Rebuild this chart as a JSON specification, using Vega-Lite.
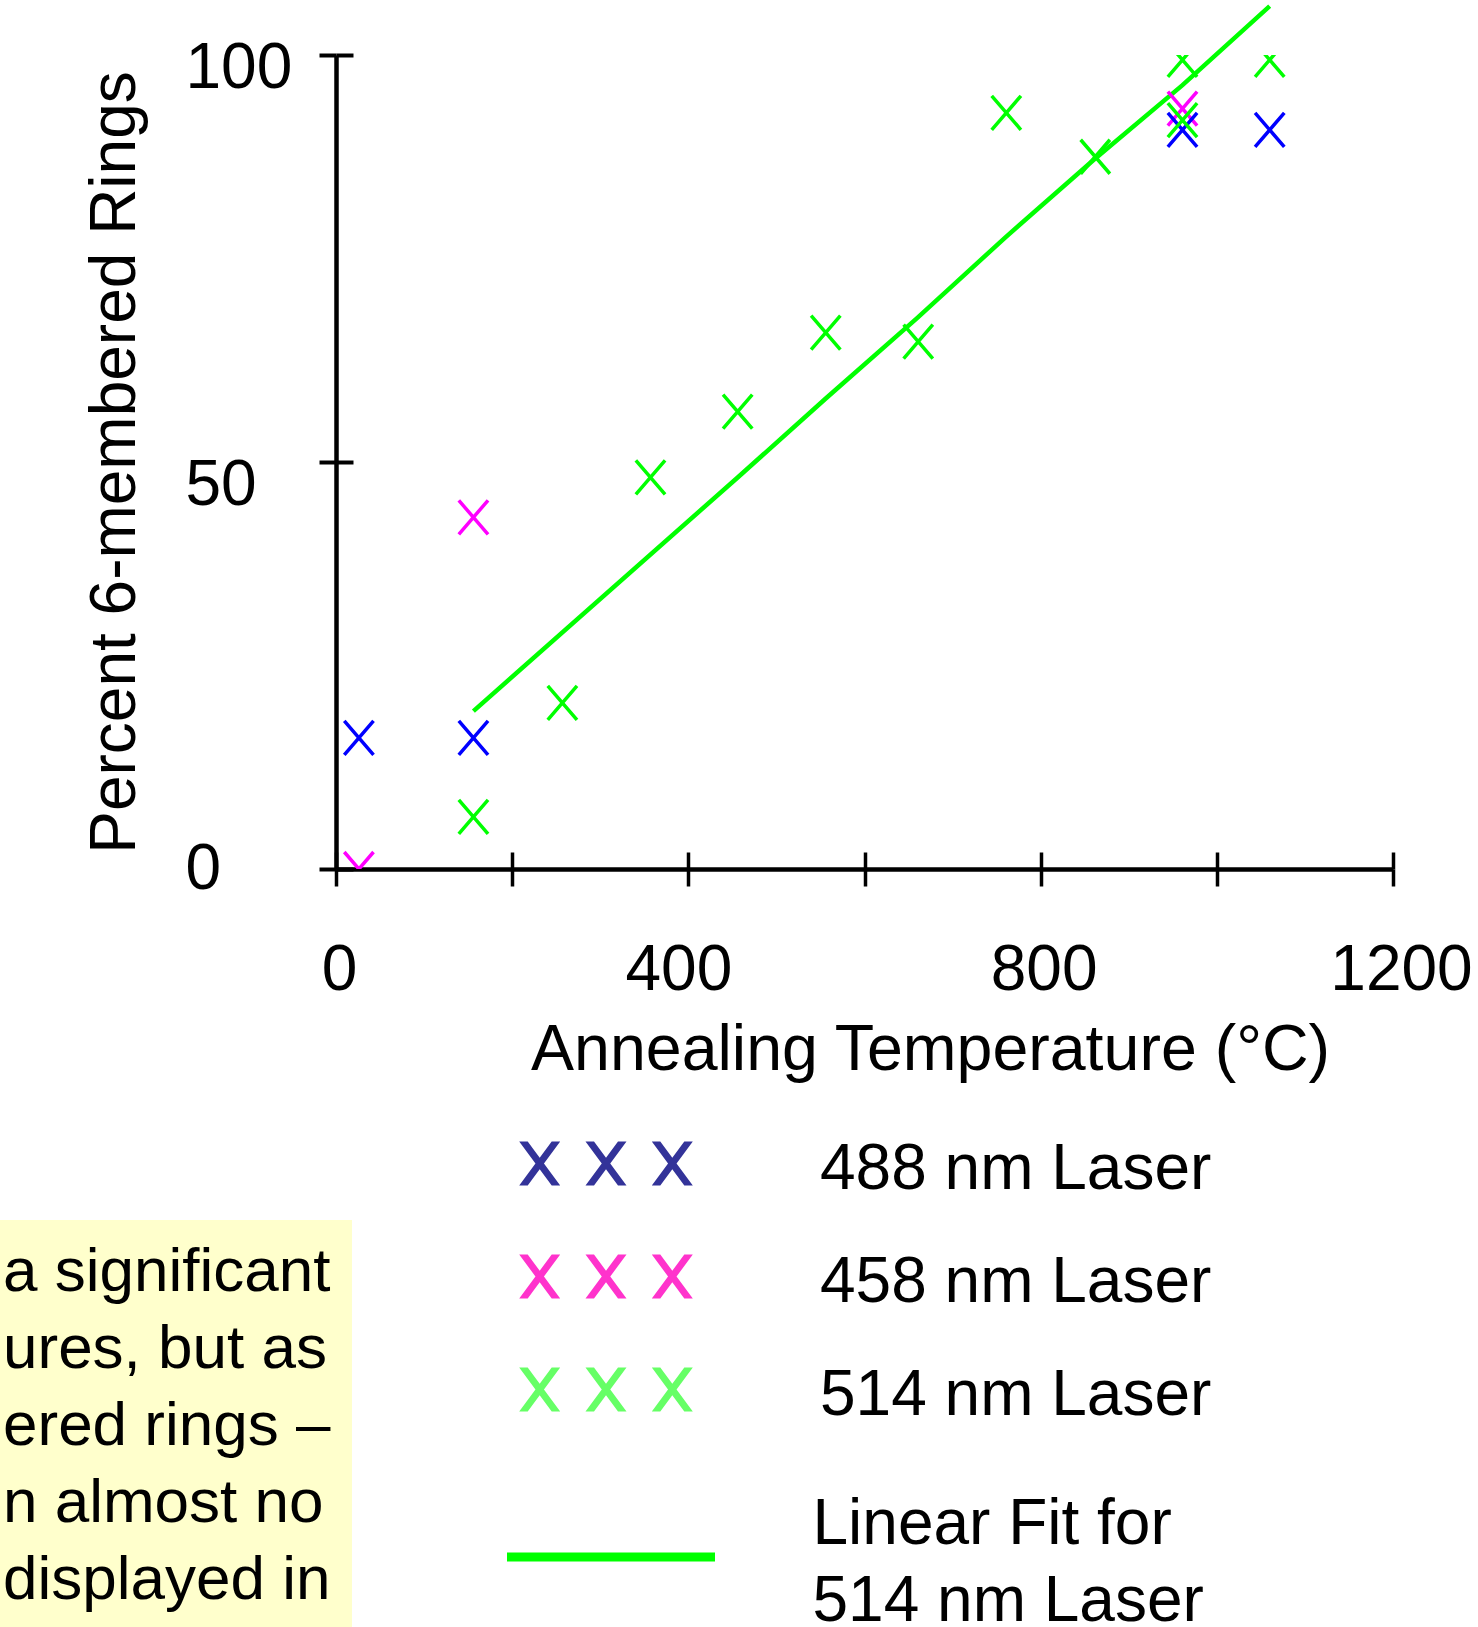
{
  "$schema": "https://vega.github.io/schema/vega-lite/v6.json",
  "autosize": {"type": "none"},
  "padding": {"left": 336, "top": 55, "right": 85, "bottom": 758},
  "width": 1057,
  "height": 814,
  "background": "white",
  "config": {"view": {"stroke": null}, "font": "Liberation Sans", "axis": {"grid": false}, "style": {"guide-label": {"lineHeight": 77}}},
  "datasets": {
    "points": [
      {"laser": "458 nm Laser", "T": 26, "pct": 0},
      {"laser": "458 nm Laser", "T": 156, "pct": 43.2},
      {"laser": "458 nm Laser", "T": 961, "pct": 93.4},
      {"laser": "488 nm Laser", "T": 26, "pct": 16.1},
      {"laser": "488 nm Laser", "T": 156, "pct": 16.1},
      {"laser": "488 nm Laser", "T": 961, "pct": 90.8},
      {"laser": "488 nm Laser", "T": 1060, "pct": 90.8},
      {"laser": "514 nm Laser", "T": 156, "pct": 6.4},
      {"laser": "514 nm Laser", "T": 257, "pct": 20.4},
      {"laser": "514 nm Laser", "T": 357, "pct": 48.1},
      {"laser": "514 nm Laser", "T": 456, "pct": 56.2},
      {"laser": "514 nm Laser", "T": 556, "pct": 65.9},
      {"laser": "514 nm Laser", "T": 661, "pct": 64.8},
      {"laser": "514 nm Laser", "T": 761, "pct": 92.9},
      {"laser": "514 nm Laser", "T": 862, "pct": 87.5},
      {"laser": "514 nm Laser", "T": 961, "pct": 99.4},
      {"laser": "514 nm Laser", "T": 961, "pct": 92.0},
      {"laser": "514 nm Laser", "T": 1060, "pct": 99.4}
    ],
    "fit": [
      {"fit": "Linear Fit for 514 nm Laser", "T": 156, "pct": 19.4},
      {"fit": "Linear Fit for 514 nm Laser", "T": 456, "pct": 48.1},
      {"fit": "Linear Fit for 514 nm Laser", "T": 556, "pct": 57.8},
      {"fit": "Linear Fit for 514 nm Laser", "T": 660, "pct": 67.7},
      {"fit": "Linear Fit for 514 nm Laser", "T": 760, "pct": 77.6},
      {"fit": "Linear Fit for 514 nm Laser", "T": 860, "pct": 87.1},
      {"fit": "Linear Fit for 514 nm Laser", "T": 961, "pct": 96.3},
      {"fit": "Linear Fit for 514 nm Laser", "T": 1060, "pct": 106.0}
    ],
    "note": [
      {"note": "a significant"},
      {"note": "ures, but as"},
      {"note": "ered rings –"},
      {"note": "n almost no"},
      {"note": "displayed in"}
    ]
  },
  "layer": [
    {
      "data": {"name": "fit"},
      "mark": {"type": "line", "strokeWidth": 4.5, "clip": false},
      "encoding": {
        "x": {"field": "T", "type": "quantitative", "scale": {"domain": [0, 1200], "nice": false},
          "axis": {"orient": "bottom", "domain": false, "labels": false, "title": null, "tickSize": -17, "tickWidth": 3.5, "tickColor": "black", "values": [0, 200, 400, 600, 800, 1000, 1200]}},
        "y": {"field": "pct", "type": "quantitative", "scale": {"domain": [0, 100], "nice": false},
          "axis": {"orient": "left", "domain": false, "labels": false, "title": null, "tickSize": -17, "tickWidth": 4, "tickColor": "black", "values": [0, 50, 100]}},
        "stroke": {"field": "fit", "type": "nominal", "scale": {"range": ["#00FF00"]},
          "legend": {"orient": "none", "legendX": 166.5, "legendY": 1393.5, "title": null, "padding": 0,
            "symbolType": "stroke", "symbolSize": 43264, "symbolStrokeWidth": 9, "symbolFillColor": "transparent",
            "labelFontSize": 64, "labelFont": "Liberation Sans", "labelColor": "black", "labelLimit": 0, "labelOffset": 93, "labelBaseline": "bottom",
            "labelExpr": "[slice(datum.label, 0, 14), slice(datum.label, 15)]"}}
      }
    },
    {
      "data": {"name": "points"},
      "mark": {"type": "point", "shape": "M-0.86,-1L0.86,1M-0.86,1L0.86,-1", "filled": false, "size": 1156, "strokeWidth": 3.5, "opacity": 1, "clip": true},
      "encoding": {
        "x": {"field": "T", "type": "quantitative", "scale": {"domain": [0, 1200], "nice": false},
          "axis": {"orient": "bottom", "title": "Annealing Temperature (°C)", "values": [0, 200, 400, 600, 800, 1000, 1200], "format": "d",
            "labelExpr": "datum.value % 400 === 0 ? datum.label : ''",
            "labelOffset": {"condition": [{"test": "datum.value === 400", "value": -10}, {"test": "datum.value === 1200", "value": 8}], "value": 3},
            "domainColor": "black", "domainWidth": 4.5, "tickColor": "black", "tickWidth": 3.5, "tickSize": 17,
            "labelFontSize": 64, "labelFont": "Liberation Sans", "labelColor": "black", "labelPadding": 52, "labelFlush": false, "labelOverlap": false,
            "titleFontSize": 64.5, "titleFont": "Liberation Sans", "titleFontWeight": "normal", "titleColor": "black",
            "titleX": 594, "titleY": 200, "titleAlign": "center", "titleBaseline": "alphabetic"}},
        "y": {"field": "pct", "type": "quantitative", "scale": {"domain": [0, 100], "nice": false},
          "axis": {"orient": "left", "title": "Percent 6-membered Rings", "values": [0, 50, 100],
            "domainColor": "black", "domainWidth": 4.5, "tickColor": "black", "tickWidth": 4, "tickSize": 17,
            "labelFontSize": 64, "labelFont": "Liberation Sans", "labelColor": "black", "labelPadding": 134, "labelAlign": "left", "labelBaseline": "middle", "labelFlush": false, "labelOverlap": false,
            "labelOffset": {"condition": [{"test": "datum.value === 100", "value": 13}, {"test": "datum.value === 50", "value": 23}], "value": 0},
            "titleFontSize": 64, "titleFont": "Liberation Sans", "titleFontWeight": "normal", "titleColor": "black",
            "titleX": -202, "titleY": 407, "titleAngle": -90, "titleAlign": "center", "titleBaseline": "alphabetic"}},
        "color": {"field": "laser", "type": "nominal",
          "scale": {"domain": ["458 nm Laser", "488 nm Laser", "514 nm Laser"], "range": ["#FF00FF", "#0000FF", "#00FF00"]},
          "legend": null},
        "fill": {"field": "laser", "type": "nominal",
          "scale": {"domain": ["488 nm Laser", "458 nm Laser", "514 nm Laser"], "range": ["#333399", "#FF33CC", "#66FF66"]},
          "legend": {"orient": "none", "legendX": 238, "legendY": 1083, "title": null, "padding": 0, "rowPadding": 49,
            "symbolType": "M-86.8,-28.5L-78.3,-28.5L-66.3,-12.3L-54.3,-28.5L-45.8,-28.5L-62.05,-6.5L-45.8,15.5L-54.3,15.5L-66.3,-0.7L-78.3,15.5L-86.8,15.5L-70.55,-6.5ZM-20.5,-28.5L-12,-28.5L0,-12.3L12,-28.5L20.5,-28.5L4.25,-6.5L20.5,15.5L12,15.5L0,-0.7L-12,15.5L-20.5,15.5L-4.25,-6.5ZM45.8,-28.5L54.3,-28.5L66.3,-12.3L78.3,-28.5L86.8,-28.5L70.55,-6.5L86.8,15.5L78.3,15.5L66.3,-0.7L54.3,15.5L45.8,15.5L62.05,-6.5Z",
            "symbolSize": 4, "symbolStrokeWidth": 0, "symbolStrokeColor": "transparent", "symbolOpacity": 1,
            "labelFontSize": 64, "labelFont": "Liberation Sans", "labelColor": "black", "labelLimit": 0, "labelOffset": 182}}
      }
    },
    {
      "data": {"name": "note"},
      "mark": {"type": "point", "opacity": 0},
      "encoding": {
        "shape": {"field": "note", "type": "nominal", "sort": null,
          "legend": {"orient": "none", "legendX": -356, "legendY": 1165, "title": null, "padding": 21, "rowPadding": 15,
            "fillColor": "#FFFFCC", "symbolSize": 0, "symbolStrokeWidth": 0, "symbolOpacity": 0,
            "labelFontSize": 62, "labelFont": "Liberation Sans", "labelColor": "black", "labelLimit": 0, "labelOffset": -60}}
      }
    }
  ],
  "resolve": {"axis": {"x": "independent", "y": "independent"}}
}
